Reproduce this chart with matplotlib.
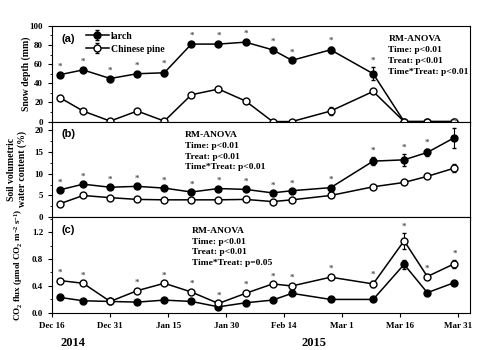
import numpy as np
import pandas as pd
import matplotlib
matplotlib.use('Agg')
import matplotlib.pyplot as plt

plt.rcParams['font.family'] = 'Liberation Serif'
plt.rcParams['font.weight'] = 'bold'
plt.rcParams['mathtext.fontset'] = 'custom'
plt.rcParams['mathtext.rm'] = 'Liberation Serif:bold'
plt.rcParams['mathtext.it'] = 'Liberation Serif:bold'
plt.rcParams['mathtext.default'] = 'rm'

# sampling dates
dates = pd.to_datetime(['2014-12-18', '2014-12-24', '2014-12-31', '2015-01-07', '2015-01-14',
                        '2015-01-21', '2015-01-28', '2015-02-04', '2015-02-11', '2015-02-16',
                        '2015-02-26', '2015-03-09', '2015-03-17', '2015-03-23', '2015-03-30'])

# (a) snow depth (mm)
snow_larch = [49, 54, 45, 50, 51, 81, 81, 83, 75, 64, 75, 50, 0, 0, 0]
snow_larch_err = [2, 2, 1.5, 2, 3, 2, 2, 2, 2, 1.5, 3, 7, 0, 0, 0]
snow_pine = [25, 11, 0.5, 11, 0.5, 28, 34, 21.5, 0, 0, 11, 31.5, 0, 0, 0]
snow_pine_err = [1.5, 1.5, 0.5, 1.5, 0.5, 2, 1.5, 2, 0, 0, 4, 2, 0, 0, 0]
snow_sig = [0, 1, 2, 3, 4, 5, 6, 7, 8, 9, 10, 11]

# (b) soil volumetric water content (%)
swc_larch = [6.3, 7.6, 6.9, 7.1, 6.7, 5.8, 6.6, 6.4, 5.6, 6.1, 6.8, 12.9, 13.2, 14.9, 18.3]
swc_larch_err = [0.3, 0.4, 0.3, 0.4, 0.3, 0.3, 0.3, 0.3, 0.3, 0.3, 0.3, 1.0, 1.4, 0.8, 2.3]
swc_pine = [3.1, 5.0, 4.5, 4.1, 4.0, 4.0, 4.0, 4.1, 3.6, 4.0, 5.0, 7.0, 8.0, 9.4, 11.3]
swc_pine_err = [0.3, 0.3, 0.3, 0.3, 0.3, 0.3, 0.3, 0.3, 0.3, 0.3, 0.3, 0.3, 0.3, 0.4, 1.0]
swc_sig = list(range(15))

# (c) CO2 flux
co2_larch = [0.23, 0.18, 0.17, 0.16, 0.19, 0.17, 0.09, 0.15, 0.19, 0.29, 0.2, 0.2, 0.72, 0.3, 0.45]
co2_larch_err = [0.01, 0.01, 0.01, 0.01, 0.01, 0.01, 0.02, 0.01, 0.01, 0.02, 0.01, 0.02, 0.07, 0.02, 0.02]
co2_pine = [0.48, 0.44, 0.17, 0.33, 0.44, 0.31, 0.14, 0.29, 0.43, 0.40, 0.53, 0.43, 1.07, 0.54, 0.73]
co2_pine_err = [0.03, 0.02, 0.02, 0.03, 0.02, 0.03, 0.03, 0.03, 0.02, 0.03, 0.03, 0.05, 0.12, 0.03, 0.06]
co2_sig = [0, 1, 3, 4, 5, 6, 7, 8, 9, 10, 11, 12, 13, 14]

anova_a = ['RM-ANOVA', 'Time: p<0.01', 'Treat: p<0.01', 'Time*Treat: p<0.01']
anova_b = ['RM-ANOVA', 'Time: p<0.01', 'Treat: p<0.01', 'Time*Treat: p<0.01']
anova_c = ['RM-ANOVA', 'Time: p<0.01', 'Treat: p<0.01', 'Time*Treat: p=0.05']

bottom_ticks = pd.date_range('2014-12-16', '2015-03-31', freq='15D')
bottom_labels = ['Dec 16', 'Dec 31', 'Jan 15', 'Jan 30', 'Feb 14', 'Mar 1', 'Mar 16', 'Mar 31']
upper_ticks = pd.date_range('2014-12-28', '2015-04-03', freq='12D')

fig, (ax1, ax2, ax3) = plt.subplots(3, 1, figsize=(4.92, 3.5), dpi=100)
fig.subplots_adjust(left=0.106, right=0.955, top=0.926, bottom=0.106, hspace=0)


def panel(ax, yl, yle, yp, ype, sig, top_series):
    ax.errorbar(dates, yl, yerr=yle, color='black', lw=1.1, marker='o', ms=5,
                mfc='black', mec='black', capsize=1.5, elinewidth=0.8, label='larch', zorder=3)
    ax.errorbar(dates, yp, yerr=ype, color='black', lw=1.1, marker='o', ms=5,
                mfc='white', mec='black', capsize=1.5, elinewidth=0.8, label='Chinese pine', zorder=3)
    vals, errs = top_series
    for i in sig:
        ax.annotate('*', (dates[i], vals[i] + errs[i]), xytext=(0, 1.5), textcoords='offset points',
                    ha='center', va='bottom', fontsize=6.5, color='#555555')


panel(ax1, snow_larch, snow_larch_err, snow_pine, snow_pine_err, snow_sig, (snow_larch, snow_larch_err))
panel(ax2, swc_larch, swc_larch_err, swc_pine, swc_pine_err, swc_sig, (swc_larch, swc_larch_err))
panel(ax3, co2_larch, co2_larch_err, co2_pine, co2_pine_err, co2_sig, (co2_pine, co2_pine_err))

xmin, xmax = pd.Timestamp('2014-12-16'), pd.Timestamp('2015-04-03')
for ax in (ax1, ax2, ax3):
    ax.set_xlim(xmin, xmax)
    ax.tick_params(direction='out', length=3, width=0.8, labelsize=6.5, top=False, right=False)
    ax.tick_params(which='minor', direction='out', length=1.5, width=0.6)
    for s in ax.spines.values():
        s.set_linewidth(0.8)

for ax in (ax1, ax2):
    ax.set_xticks(upper_ticks)
    ax.set_xticklabels([])
ax3.set_xticks(bottom_ticks)
ax3.set_xticklabels(bottom_labels, fontsize=6.5, fontweight='bold')

ax1.set_ylim(0, 100)
ax1.set_yticks(np.arange(0, 101, 20))
ax1.set_yticks(np.arange(0, 101, 10), minor=True)
ax2.set_ylim(0, 22)
ax2.set_yticks(np.arange(0, 21, 5))
ax2.set_yticks(np.arange(0, 22, 2.5), minor=True)
ax3.set_ylim(0, 1.42)
ax3.set_yticks([0.0, 0.4, 0.8, 1.2])
ax3.set_yticklabels(['0.0', '0.4', '0.8', '1.2'])
ax3.set_yticks(np.arange(0, 1.41, 0.2), minor=True)

ax1.set_ylabel('Snow depth (mm)', fontsize=7, fontweight='bold')
ax2.set_ylabel('Soil volumetric\nwater content (%)', fontsize=7, fontweight='bold')
ax3.set_ylabel('CO$_2$ flux ($\\mu$mol CO$_2$ m$^{-2}$ s$^{-1}$)', fontsize=6.5, fontweight='bold')
ax1.yaxis.set_label_coords(-0.05, 0.5)
ax2.yaxis.set_label_coords(-0.06, 0.5)
ax3.yaxis.set_label_coords(-0.065, 0.5)

for ax, tag in zip((ax1, ax2, ax3), ('(a)', '(b)', '(c)')):
    ax.text(0.022, 0.92, tag, transform=ax.transAxes, fontsize=8, fontweight='bold',
            family='Liberation Sans', va='top')

ax1.legend(loc='upper left', bbox_to_anchor=(0.08, 0.94), frameon=False, fontsize=7,
           handlelength=2.4, handletextpad=0.2, labelspacing=0.4, borderaxespad=0, borderpad=0)

ax1.text(0.805, 0.9, '\n'.join(anova_a), transform=ax1.transAxes, fontsize=6.8,
         fontweight='bold', va='top', linespacing=1.45)
ax2.text(0.318, 0.9, '\n'.join(anova_b), transform=ax2.transAxes, fontsize=6.8,
         fontweight='bold', va='top', linespacing=1.45)
ax3.text(0.335, 0.9, '\n'.join(anova_c), transform=ax3.transAxes, fontsize=6.8,
         fontweight='bold', va='top', linespacing=1.45)

fig.text(73 / 492, 1 - 343 / 350, '2014', fontsize=9, fontweight='bold', ha='center', va='center')
fig.text(314 / 492, 1 - 343 / 350, '2015', fontsize=9, fontweight='bold', ha='center', va='center')

fig.savefig('out.png', dpi=100)
